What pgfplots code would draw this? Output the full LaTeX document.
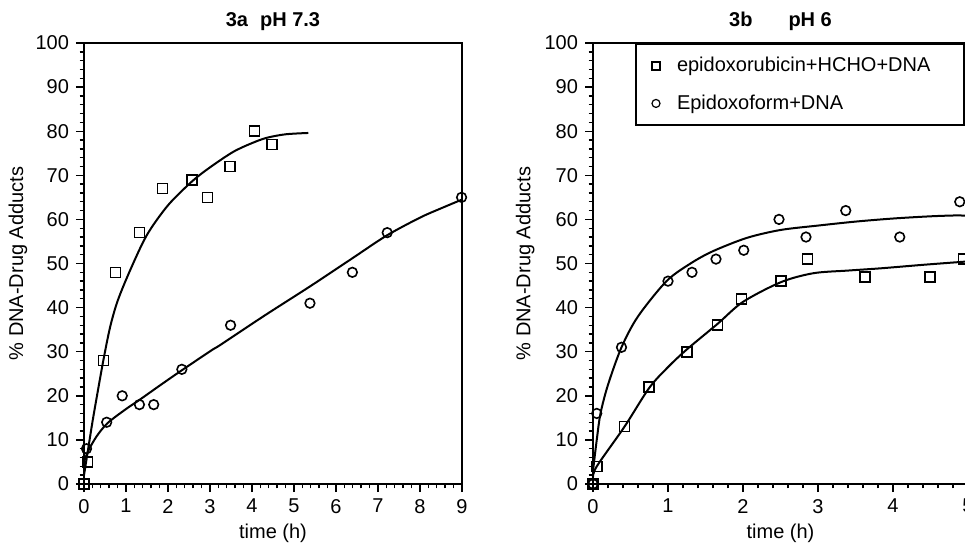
\documentclass[border=0pt]{standalone}
\usepackage{fontspec}
\setmainfont{Liberation Sans}
\usepackage{pgfplots}
\pgfplotsset{compat=1.18}

\pgfplotsset{
  panel/.style={
    scale only axis, height=220.5pt,
    xmin=0, ymin=0, ymax=100,
    ytick={0,10,...,100}, minor y tick num=4,
    xtick distance=1, minor x tick num=4,
    tick align=outside, xtick pos=bottom, ytick pos=left,
    major tick length=4pt, minor tick length=2.2pt,
    every tick/.style={black, line width=0.7pt},
    axis line style={line width=1pt},
    /pgf/number format/assume math mode=true,
    tick label style={font=\fontsize{10}{12}\selectfont},
    label style={font=\fontsize{10}{12}\selectfont},
    xlabel={time (h)}, ylabel={\% DNA-Drug Adducts},
    xlabel style={at={(axis description cs:0.5,0)}, anchor=center, yshift=-24.5pt},
    every axis title/.style={at={(0.5,1)}, anchor=south, yshift=2.5pt,
      font=\bfseries\fontsize{10}{12}\selectfont},
    clip=false,
  },
  sq/.style={only marks, mark=square, mark size=2.5pt, mark options={line width=0.8pt, fill=white}},
  ci/.style={only marks, mark=o, mark size=2.4pt, mark options={line width=0.8pt, fill=white}},
  fit/.style={smooth, line width=1pt, no marks, forget plot},
}

\begin{document}
\begin{tikzpicture}
% ---- 3a pH 7.3
\begin{axis}[panel, at={(42pt,29pt)}, anchor=south west,
    width=189pt, xmax=9, title={3a\hspace{0.6em}pH 7.3},
    ylabel style={at={(axis description cs:-0.175,0.5)}, anchor=center}]
\addplot[fit] coordinates {(0,2) (0.1,8) (0.2,14) (0.3,19.5) (0.46,28) (0.62,35.5)
  (0.8,41.5) (1.1,48.5) (1.5,56.5) (2.0,63.2) (2.57,68.6) (3.0,71.8) (3.55,75.3)
  (4.0,77.3) (4.35,78.5) (4.8,79.3) (5.34,79.6)};
\addplot[fit] coordinates {(0,5) (0.1,7.5) (0.3,10.8) (0.56,13.8) (1.0,17) (1.31,19)
  (1.8,22.3) (2.3,25.6) (3.05,30.4) (3.24,31.5) (4.3,38.2) (5.38,44.8) (6.33,50.8)
  (7.2,56.3) (8.0,60.4) (8.5,62.5) (9,64.5)};
\addplot[sq] coordinates {(0,0) (0.08,5) (0.46,28) (0.75,48) (1.32,57) (1.87,67)
  (2.57,69) (2.94,65) (3.48,72) (4.06,80) (4.47,77)};
\addplot[ci] coordinates {(0.06,8) (0.54,14) (0.91,20) (1.32,18) (1.66,18) (2.33,26)
  (3.49,36) (5.38,41) (6.39,48) (7.22,57) (8.99,65)};
\end{axis}
% ---- 3b pH 6
\begin{axis}[panel, at={(296.5pt,29pt)}, anchor=south west,
    width=187.5pt, xmax=5, title={3b\hspace{1.8em}pH 6},
    ylabel style={at={(axis description cs:-0.181,0.5)}, anchor=center},
    legend cell align=left,
    legend image code/.code={\path[draw=none] (0pt,0pt) -- (15.5pt,0pt);
      \path[#1, draw=none] plot[only marks, mark size=2pt,
        mark options={draw=black, line width=0.6pt}] coordinates {(7pt,0pt)};},
    legend style={at={(0.112,1)}, anchor=north west, draw=black, line width=1pt,
      font=\fontsize{10}{12}\selectfont, inner xsep=3pt, inner ysep=4.6pt,
      row sep=6pt, fill=white}]
\addplot[fit] coordinates {(0,3) (0.05,10) (0.1,16) (0.2,22.5) (0.38,31) (0.6,38)
  (0.98,46) (1.3,50) (1.6,52.8) (2.05,55.8) (2.5,57.6) (3.0,58.6) (3.5,59.5)
  (4.0,60.2) (4.5,60.7) (4.85,60.9) (5,60.8)};
\addplot[fit] coordinates {(0,1.5) (0.05,4) (0.42,13) (0.75,21.8) (1.0,26.5) (1.25,30.5)
  (1.66,36.3) (2.0,41.3) (2.51,45.8) (2.94,47.8) (3.4,48.4) (3.83,48.9) (4.4,49.7)
  (4.94,50.4) (5,50.5)};
\addplot[sq] coordinates {(0,0) (0.05,4) (0.42,13) (0.75,22) (1.25,30) (1.66,36)
  (1.98,42) (2.51,46) (2.86,51) (3.63,47) (4.49,47) (4.94,51)};
\addlegendentry{epidoxorubicin+HCHO+DNA\hspace*{12pt}}
\addplot[ci] coordinates {(0,0) (0.05,16) (0.38,31) (1.0,46) (1.32,48) (1.64,51)
  (2.01,53) (2.48,60) (2.84,56) (3.37,62) (4.09,56) (4.89,64)};
\addlegendentry{Epidoxoform+DNA}
\end{axis}
\pgfresetboundingbox
\path (0pt,0pt) rectangle (482.5pt,271pt);
\end{tikzpicture}
\end{document}
